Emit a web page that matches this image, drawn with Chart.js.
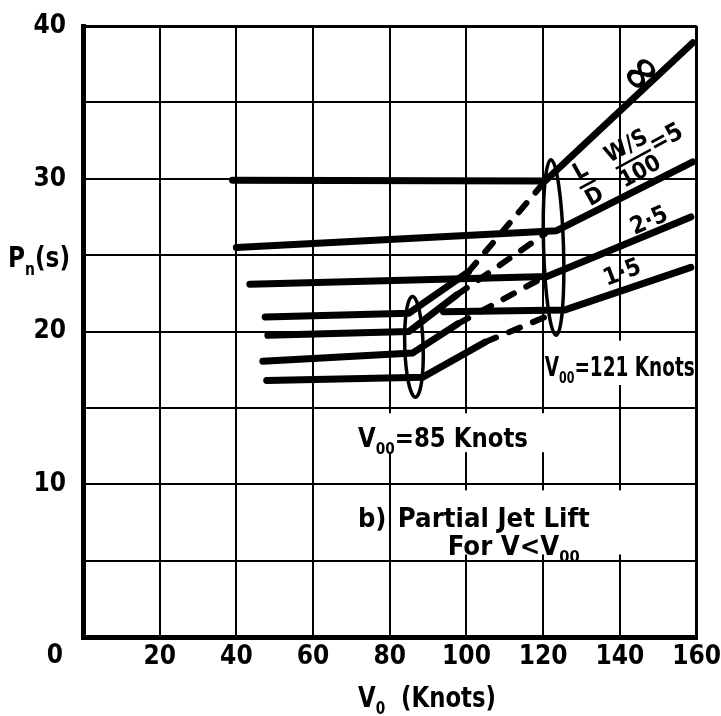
<!DOCTYPE html>
<html>
<head>
<meta charset="utf-8">
<script src="https://cdn.jsdelivr.net/npm/chart.js@4.4.0/dist/chart.umd.min.js"></script>
<style>
  html, body { margin: 0; padding: 0; background: #fff; }
</style>
</head>
<body>
<canvas id="chart" width="721" height="716"></canvas>
<script>
// axis ticks
const speedTicks = [0, 20, 40, 60, 80, 100, 120, 140, 160];
const pnTicks = [0, 5, 10, 15, 20, 25, 30, 35, 40];

// W/S = infinity
const infUpperX = [39, 120.5, 159];
const infUpperY = [29.9, 29.85, 38.9];
const infLowerX = [47.5, 85, 100.5];
const infLowerY = [20.95, 21.2, 23.9];
const infDashX = [100.5, 120.5];
const infDashY = [23.9, 29.85];

// W/S = 5
const fiveUpperX = [40, 123.5, 159];
const fiveUpperY = [25.5, 26.6, 31.1];
const fiveLowerX = [48.2, 85, 97.5];
const fiveLowerY = [19.75, 20.0, 22.4];
const fiveDashX = [97.5, 120.5];
const fiveDashY = [22.4, 26.4];

// W/S = 2.5
const twoUpperX = [43.5, 121, 158.5];
const twoUpperY = [23.1, 23.6, 27.5];
const twoLowerX = [46.9, 86, 97.7];
const twoLowerY = [18.05, 18.6, 20.5];
const twoDashX = [97.7, 120.5];
const twoDashY = [20.5, 23.6];

// W/S = 1.5
const oneUpperX = [94, 125.5, 158.5];
const oneUpperY = [21.3, 21.4, 24.2];
const oneLowerX = [47.9, 88.5, 104.8];
const oneLowerY = [16.8, 17.0, 19.3];
const oneDashX = [104.8, 121];
const oneDashY = [19.3, 21.0];

// the two loops round the break points
const loopX = [86.3, 122.7];
const loopY = [19.0, 25.5];
const loopRx = [2.4, 2.6];
const loopRy = [3.3, 5.75];

// curve labels
const curveText = ['∞', '2·5', '1·5'];
const curveX = [145.9, 147.7, 140.7];
const curveY = [36.8, 27.2, 23.8];

// notes inside the plot (_{..} = subscript)
const noteText = ['V_{00}=121 Knots', 'V_{00}=85 Knots', 'b)', 'Partial Jet Lift', 'For V<V_{00}'];
const noteX = [120.4, 71.7, 71.7, 82.1, 95.1];
const noteY = [17.08, 12.43, 7.2, 7.2, 5.37];

const FONT = '"DejaVu Sans Condensed", "DejaVu Sans", sans-serif';

function pts(xs, ys) {
  return xs.map((x, i) => ({ x: x, y: ys[i] }));
}

function curve(xs, ys, dashed) {
  return {
    data: pts(xs, ys),
    showLine: true,
    borderColor: '#000',
    borderWidth: dashed ? 6 : 7,
    borderDash: dashed ? [12, 14] : [],
    borderCapStyle: 'round',
    borderJoinStyle: 'round',
    pointRadius: 0,
    fill: false
  };
}

const datasets = [
  curve(infUpperX, infUpperY), curve(infLowerX, infLowerY), curve(infDashX, infDashY, true),
  curve(fiveUpperX, fiveUpperY), curve(fiveLowerX, fiveLowerY), curve(fiveDashX, fiveDashY, true),
  curve(twoUpperX, twoUpperY), curve(twoLowerX, twoLowerY), curve(twoDashX, twoDashY, true),
  curve(oneUpperX, oneUpperY), curve(oneLowerX, oneLowerY), curve(oneDashX, oneDashY, true)
];

const noteBoxes = [
  [120.6, 158.6, 16.5, 19.4],
  [67.5, 135, 12.1, 14.65],
  [81.5, 143, 5.4, 9.6]
];

// draws text with _{sub} parts, squeezed to a given width (0 = natural)
function drawRich(ctx, str, x, y, size, width) {
  const parts = [];
  str.split(/(_\{[^}]*\})/).forEach(p => {
    if (!p) return;
    const m = p.match(/^_\{([^}]*)\}$/);
    parts.push(m ? { t: m[1], sub: true } : { t: p, sub: false });
  });
  let total = 0;
  parts.forEach(p => {
    ctx.font = 'bold ' + (p.sub ? size * 0.6 : size) + 'px ' + FONT;
    p.w = ctx.measureText(p.t).width;
    total += p.w;
  });
  const sx = width ? width / total : 1;
  ctx.save();
  ctx.translate(x, y);
  ctx.scale(sx, 1);
  let cx = 0;
  parts.forEach(p => {
    ctx.font = 'bold ' + (p.sub ? size * 0.6 : size) + 'px ' + FONT;
    ctx.fillText(p.t, cx, p.sub ? size * 0.25 : 0);
    cx += p.w;
  });
  ctx.restore();
}

const notesPlugin = {
  id: 'notes',
  beforeDatasetsDraw(chart) {
    const ctx = chart.ctx, xs = chart.scales.x, ys = chart.scales.y;
    ctx.save();
    ctx.fillStyle = '#fff';
    noteBoxes.forEach(b => {
      const x0 = xs.getPixelForValue(b[0]), x1 = xs.getPixelForValue(b[1]);
      const y0 = ys.getPixelForValue(b[3]), y1 = ys.getPixelForValue(b[2]);
      ctx.fillRect(x0, y0, x1 - x0, y1 - y0);
    });
    ctx.restore();
  },
  afterDatasetsDraw(chart) {
    const ctx = chart.ctx, xs = chart.scales.x, ys = chart.scales.y;
    const area = chart.chartArea;
    ctx.save();
    ctx.fillStyle = '#000';
    ctx.strokeStyle = '#000';

    // loops
    ctx.lineWidth = 3.5;
    loopX.forEach((x, i) => {
      const cx = xs.getPixelForValue(x), cy = ys.getPixelForValue(loopY[i]);
      const rx = xs.getPixelForValue(x + loopRx[i]) - cx;
      const ry = cy - ys.getPixelForValue(loopY[i] + loopRy[i]);
      ctx.beginPath();
      ctx.ellipse(cx, cy, rx, ry, -0.03, 0, Math.PI * 2);
      ctx.stroke();
    });

    // notes
    ctx.textAlign = 'left';
    ctx.textBaseline = 'alphabetic';
    const noteSize = [27, 26, 27, 27, 27];
    const noteWidth = [150, 170, 0, 192, 132];
    noteText.forEach((t, i) => {
      drawRich(ctx, t, xs.getPixelForValue(noteX[i]), ys.getPixelForValue(noteY[i]), noteSize[i], noteWidth[i]);
    });

    // curve labels
    ctx.textAlign = 'center';
    ctx.textBaseline = 'middle';
    const curveSize = [50, 24, 24];
    const curveRot = [-0.8, -0.42, -0.36];
    curveText.forEach((t, i) => {
      ctx.save();
      ctx.translate(xs.getPixelForValue(curveX[i]), ys.getPixelForValue(curveY[i]));
      ctx.rotate(curveRot[i]);
      ctx.font = 'bold ' + curveSize[i] + 'px ' + FONT;
      ctx.fillText(t, 0, 0);
      ctx.restore();
    });

    // L/D * (W/S)/100 = 5
    ctx.save();
    ctx.translate(xs.getPixelForValue(131.6), ys.getPixelForValue(29.65));
    ctx.rotate(-0.5);
    ctx.font = 'bold 23px ' + FONT;
    ctx.lineWidth = 2.5;
    ctx.fillText('L', 0, -14);
    ctx.fillText('D', 0, 15);
    ctx.beginPath(); ctx.moveTo(-9, 0); ctx.lineTo(9, 0); ctx.stroke();
    ctx.fillText('W/S', 52, -14);
    ctx.fillText('100', 52, 15);
    ctx.beginPath(); ctx.moveTo(32, 0); ctx.lineTo(72, 0); ctx.stroke();
    ctx.font = 'bold 25px ' + FONT;
    ctx.fillText('=5', 91, -2);
    ctx.restore();

    // axis titles and corner zero
    ctx.textAlign = 'left';
    ctx.textBaseline = 'alphabetic';
    drawRich(ctx, 'P_{n}(s)', 8, ys.getPixelForValue(24.2), 29, 62);
    drawRich(ctx, 'V_{0}  (Knots)', area.left + 275, area.bottom + 70, 28, 138);
    ctx.textAlign = 'center';
    ctx.textBaseline = 'middle';
    ctx.font = 'bold 26px ' + FONT;
    ctx.fillText('0', area.left - 28, area.bottom + 19);
    ctx.restore();
  }
};

new Chart(document.getElementById('chart'), {
  type: 'scatter',
  data: { datasets: datasets },
  options: {
    responsive: false,
    animation: false,
    layout: { padding: { top: 26, right: 24, left: 0, bottom: 0 } },
    plugins: { legend: { display: false }, tooltip: { enabled: false } },
    scales: {
      x: {
        type: 'linear',
        min: 0,
        max: 160,
        afterFit: s => { s.height = 79; },
        afterBuildTicks: s => { s.ticks = speedTicks.map(v => ({ value: v })); },
        ticks: {
          color: '#000',
          font: { family: FONT, size: 26, weight: 'bold' },
          padding: 0,
          maxRotation: 0,
          autoSkip: false,
          callback: v => v === 0 ? '' : String(v)
        },
        grid: {
          color: '#000',
          drawTicks: true,
          tickLength: 5,
          tickColor: 'rgba(0,0,0,0)',
          lineWidth: c => c.tick && c.tick.value === 160 ? 3 : 2
        },
        border: { color: '#000', width: 5 }
      },
      y: {
        type: 'linear',
        min: 0,
        max: 40,
        afterFit: s => { s.width = 83; },
        afterBuildTicks: s => { s.ticks = pnTicks.map(v => ({ value: v })); },
        ticks: {
          color: '#000',
          font: { family: FONT, size: 26, weight: 'bold' },
          padding: 0,
          callback: v => (v % 10 === 0 && v !== 0) ? String(v) : ''
        },
        grid: {
          color: '#000',
          drawTicks: true,
          tickLength: 17,
          tickColor: 'rgba(0,0,0,0)',
          lineWidth: c => c.tick && c.tick.value === 40 ? 3 : 2
        },
        border: { color: '#000', width: 5 }
      }
    }
  },
  plugins: [notesPlugin]
});
</script>
</body>
</html>
